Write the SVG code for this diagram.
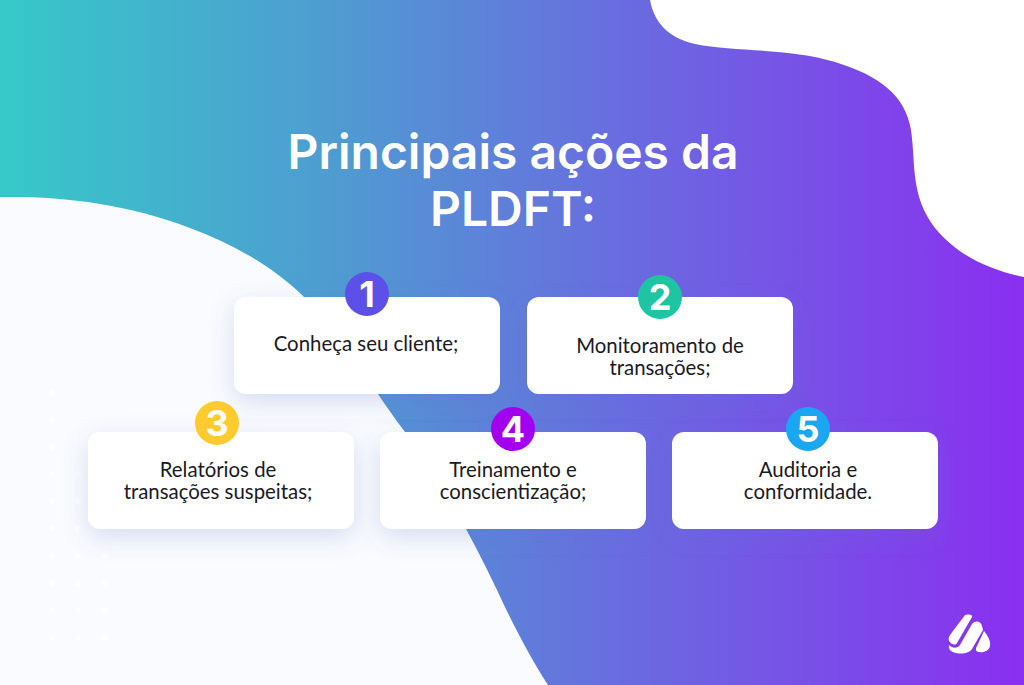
<svg xmlns="http://www.w3.org/2000/svg" width="1024" height="685" viewBox="0 0 1024 685">
<defs>
<linearGradient id="bg" x1="0" y1="0" x2="1" y2="0"><stop offset="0" stop-color="#36c9c9"/><stop offset="0.33" stop-color="#4f9bd1"/><stop offset="0.62" stop-color="#6a6ae0"/><stop offset="1" stop-color="#8a2ff0"/></linearGradient>
<filter id="sh" x="-20%" y="-30%" width="140%" height="170%"><feDropShadow dx="0" dy="8" stdDeviation="12" flood-color="#5a6fc8" flood-opacity="0.22"/></filter>
</defs>
<style>
.card{fill:#fff;filter:url(#sh)}
.t{font-family:"Lato","Liberation Sans",sans-serif;font-size:20.4px;fill:#1a1a1f;text-anchor:middle}
.n{font-family:"Inter","Liberation Sans",sans-serif;font-size:36px;font-weight:700;fill:#fff;text-anchor:middle}
.h{font-family:"Inter","Liberation Sans",sans-serif;font-size:48px;font-weight:600;fill:#fff;text-anchor:middle}
.d{fill:#fff}
</style>
<rect width="1024" height="685" fill="url(#bg)"/>
<path d="M0 197C60 196 125 203 190 228C238 246 278 270 308 301C345 340 370 385 402 428C440 478 468 530 497 590C513 625 532 660 548 685L0 685Z" fill="#f9fbfe"/>
<path d="M650 0C654 22 668 38 695 44C735 52 790 48 835 62C880 76 905 95 911 130C916 165 910 195 935 228C958 256 990 270 1024 277L1024 0Z" fill="#fff"/>
<g class="d" opacity="0.85">
<circle cx="52" cy="393" r="3"/><circle cx="52" cy="420" r="3"/><circle cx="52" cy="447" r="3"/><circle cx="52" cy="474" r="3"/><circle cx="52" cy="501" r="3"/><circle cx="52" cy="528" r="3"/><circle cx="52" cy="556" r="3"/><circle cx="52" cy="583" r="3"/><circle cx="52" cy="610" r="3"/><circle cx="52" cy="638" r="3"/>
<circle cx="78" cy="474" r="3"/><circle cx="78" cy="501" r="3"/><circle cx="78" cy="528" r="3"/><circle cx="78" cy="556" r="3"/><circle cx="78" cy="583" r="3"/><circle cx="78" cy="610" r="3"/><circle cx="78" cy="638" r="3"/>
<circle cx="105" cy="556" r="3"/><circle cx="105" cy="583" r="3"/><circle cx="105" cy="610" r="3"/><circle cx="105" cy="638" r="3"/>
</g>
<text class="h" x="513" y="169">Principais ações da</text>
<text class="h" x="513" y="226">PLDFT:</text>
<g id="connectors"></g>
<g id="node1"><rect class="card" x="234" y="297" width="266" height="97" rx="12"/><circle cx="367" cy="294" r="22" fill="#5c50e8"/><text class="n" x="367" y="307">1</text><text class="t" x="366" y="351">Conheça seu cliente;</text></g>
<g id="node2"><rect class="card" x="527" y="297" width="266" height="97" rx="12"/><circle cx="660" cy="297" r="22" fill="#1dc5a3"/><text class="n" x="660" y="310">2</text><text class="t" x="660" y="353">Monitoramento de</text><text class="t" x="660" y="375">transações;</text></g>
<g id="node3"><rect class="card" x="88" y="432" width="266" height="97" rx="12"/><circle cx="217" cy="423" r="22" fill="#fdcb2e"/><text class="n" x="217" y="436">3</text><text class="t" x="218" y="477">Relatórios de</text><text class="t" x="218" y="499">transações suspeitas;</text></g>
<g id="node4"><rect class="card" x="380" y="432" width="266" height="97" rx="12"/><circle cx="513" cy="429" r="22" fill="#a400f0"/><text class="n" x="513" y="442">4</text><text class="t" x="513" y="477">Treinamento e</text><text class="t" x="513" y="499">conscientização;</text></g>
<g id="node5"><rect class="card" x="672" y="432" width="266" height="97" rx="12"/><circle cx="808" cy="429" r="22" fill="#1ba6f2"/><text class="n" x="808" y="442">5</text><text class="t" x="808" y="477">Auditoria e</text><text class="t" x="808" y="499">conformidade.</text></g>
<g id="logo" fill="#fff">
<path d="M965 615C967 614 973 614 972 617L957 643C955 646 951 644 949 641C948 639 949 637 950 635Z"/>
<path d="M949 645C952 648 957 649 960 645L972 624C975 620 981 621 982 626L983 630L972 649C968 654 961 654 956 653C951 652 948 649 949 645Z"/>
<path d="M984 631C988 636 991 641 990 646C989 651 983 653 979 652C976 652 975 649 977 646Z"/>
</g>
</svg>
